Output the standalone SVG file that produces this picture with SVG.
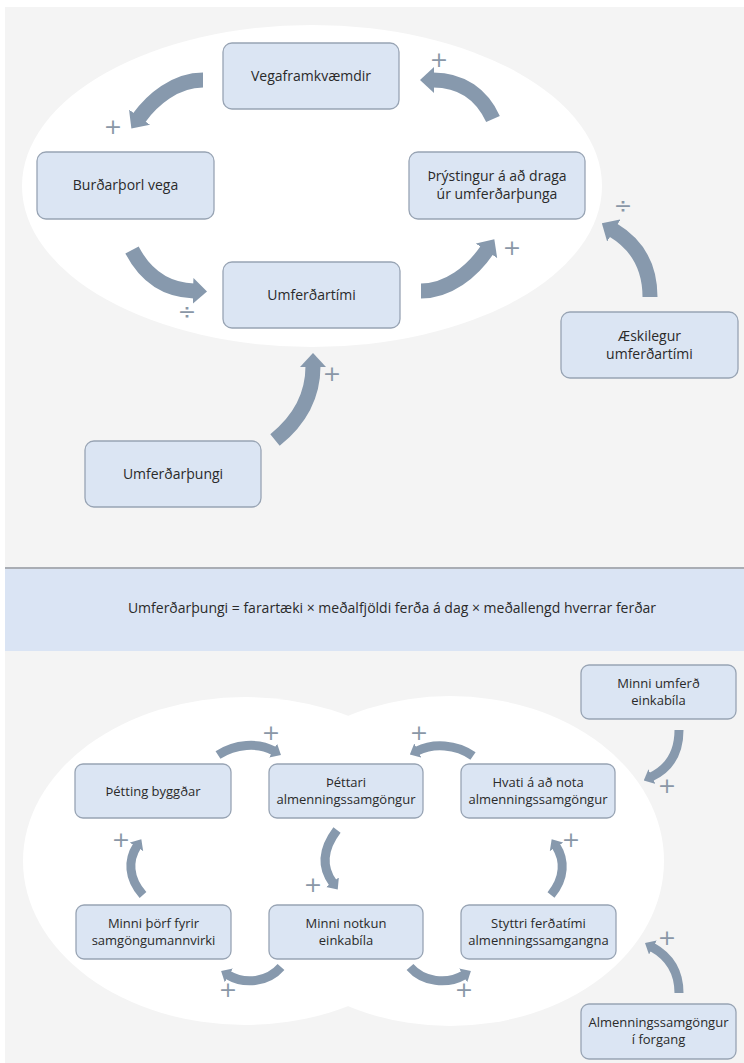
<svg xmlns="http://www.w3.org/2000/svg" width="744" height="1063" viewBox="0 0 744 1063">
<style>
.node rect{fill:#dbe5f3;stroke:#98a4b4;stroke-width:1.3}
.node text,.eq{font-family:"Open Sans","Noto Sans",sans-serif;fill:#2a2a2a;text-anchor:middle}
.t text{font-size:14px}
.b text{font-size:13px}
.arr{fill:none;stroke:#8799ad;stroke-linecap:butt}
.big{stroke-width:15}
.sm{stroke-width:9}
.sign{font-family:"DejaVu Sans",sans-serif;fill:#8a97a7;text-anchor:middle;font-size:22px}
</style>
<defs>
<marker id="ahB" markerUnits="userSpaceOnUse" viewBox="0 0 14 26" refX="1" refY="13" markerWidth="14" markerHeight="26" orient="auto"><path d="M0,0 L14,13 L0,26 z" fill="#8799ad"/></marker>
<marker id="ahS" markerUnits="userSpaceOnUse" viewBox="0 0 9 16" refX="1" refY="8" markerWidth="9" markerHeight="16" orient="auto"><path d="M0,0 L9,8 L0,16 z" fill="#8799ad"/></marker>
</defs>
<rect x="0" y="0" width="744" height="1063" fill="#ffffff"/>
<rect x="5" y="7" width="739" height="1056" fill="#f4f4f4"/>
<ellipse cx="312" cy="186" rx="290" ry="161" fill="#ffffff"/>
<rect x="5" y="567" width="739" height="2" fill="#a9adb4"/>
<rect x="5" y="569" width="739" height="82" fill="#dae4f4"/>
<text class="eq" x="392" y="613" font-size="14">Umferðarþungi = farartæki × meðalfjöldi ferða á dag × meðallengd hverrar ferðar</text>
<ellipse cx="245" cy="861" rx="222" ry="164" fill="#ffffff"/>
<ellipse cx="450" cy="861" rx="214" ry="165" fill="#ffffff"/>

<g id="connectors">
<path class="arr big" d="M203,80 C175,80 152,100 139,118" marker-end="url(#ahB)"/>
<path class="arr big" d="M132,250 C145,275 165,290 194,291" marker-end="url(#ahB)"/>
<path class="arr big" d="M421,291 C448,291 472,272 487,250" marker-end="url(#ahB)"/>
<path class="arr big" d="M493,119 C482,95 462,80 433,80" marker-end="url(#ahB)"/>
<path class="arr big" d="M650,297 C650,268 638,245 613,230" marker-end="url(#ahB)"/>
<path class="arr big" d="M275,440 C300,420 313,395 313,366" marker-end="url(#ahB)"/>

<path class="arr sm" d="M218,755 C235,744 258,742 274,751" marker-end="url(#ahS)"/>
<path class="arr sm" d="M473,756 C456,744 433,743 417,751" marker-end="url(#ahS)"/>
<path class="arr sm" d="M337,830 C322,850 322,868 333,883" marker-end="url(#ahS)"/>
<path class="arr sm" d="M281,967 C268,982 245,985 228,975" marker-end="url(#ahS)"/>
<path class="arr sm" d="M143,895 C128,878 128,860 137,846" marker-end="url(#ahS)"/>
<path class="arr sm" d="M410,967 C423,982 447,985 464,975" marker-end="url(#ahS)"/>
<path class="arr sm" d="M551,895 C565,878 565,860 556,846" marker-end="url(#ahS)"/>
<path class="arr sm" d="M679,730 C679,752 670,768 651,777" marker-end="url(#ahS)"/>
<path class="arr sm" d="M679,993 C679,972 670,957 652,947" marker-end="url(#ahS)"/>

<text class="sign" x="113" y="134">+</text>
<text class="sign" x="187" y="319">÷</text>
<text class="sign" x="512" y="255">+</text>
<text class="sign" x="439" y="67">+</text>
<text class="sign" x="623" y="213">÷</text>
<text class="sign" x="332" y="381">+</text>

<text class="sign" x="271" y="740">+</text>
<text class="sign" x="419" y="740">+</text>
<text class="sign" x="313" y="892">+</text>
<text class="sign" x="121" y="847">+</text>
<text class="sign" x="571" y="847">+</text>
<text class="sign" x="228" y="997">+</text>
<text class="sign" x="464" y="997">+</text>
<text class="sign" x="667" y="793">+</text>
<text class="sign" x="667" y="945">+</text>
</g>

<g id="n-vegaframkvaemdir" class="node t"><rect x="223" y="43" width="176" height="66" rx="9"/><text x="311" y="81">Vegaframkvæmdir</text></g>
<g id="n-burdarthorl" class="node t"><rect x="37" y="152" width="177" height="67" rx="9"/><text x="125.5" y="190">Burðarþorl vega</text></g>
<g id="n-thrystingur" class="node t"><rect x="409" y="152" width="176" height="67" rx="9"/><text x="497" y="181">Þrýstingur á að draga</text><text x="497" y="199">úr umferðarþunga</text></g>
<g id="n-umferdartimi" class="node t"><rect x="223" y="262" width="177" height="66" rx="9"/><text x="311.5" y="300">Umferðartími</text></g>
<g id="n-askilegur" class="node t"><rect x="561" y="312" width="177" height="66" rx="9"/><text x="649.5" y="341">Æskilegur</text><text x="649.5" y="359">umferðartími</text></g>
<g id="n-umferdarthungi" class="node t"><rect x="85" y="441" width="176" height="66" rx="9"/><text x="173" y="479">Umferðarþungi</text></g>

<g id="n-thetting" class="node b"><rect x="75" y="764" width="156" height="54" rx="8"/><text x="153" y="796">Þétting byggðar</text></g>
<g id="n-thettari" class="node b"><rect x="269" y="764" width="154" height="54" rx="8"/><text x="346" y="787">Þéttari</text><text x="346" y="804">almenningssamgöngur</text></g>
<g id="n-hvati" class="node b"><rect x="461" y="764" width="154" height="54" rx="8"/><text x="538" y="787">Hvati á að nota</text><text x="538" y="804">almenningssamgöngur</text></g>
<g id="n-minni-umferd" class="node b"><rect x="581" y="665" width="155" height="54" rx="8"/><text x="658.5" y="688">Minni umferð</text><text x="658.5" y="705">einkabíla</text></g>
<g id="n-minni-thorf" class="node b"><rect x="76" y="905" width="155" height="54" rx="8"/><text x="153.5" y="928">Minni þörf fyrir</text><text x="153.5" y="945">samgöngumannvirki</text></g>
<g id="n-minni-notkun" class="node b"><rect x="269" y="905" width="154" height="54" rx="8"/><text x="346" y="928">Minni notkun</text><text x="346" y="945">einkabíla</text></g>
<g id="n-styttri" class="node b"><rect x="461" y="905" width="155" height="54" rx="8"/><text x="538.5" y="928">Styttri ferðatími</text><text x="538.5" y="945">almenningssamgangna</text></g>
<g id="n-almennings" class="node b"><rect x="581" y="1004" width="155" height="55" rx="8"/><text x="658.5" y="1027">Almenningssamgöngur</text><text x="658.5" y="1044">í forgang</text></g>
</svg>
